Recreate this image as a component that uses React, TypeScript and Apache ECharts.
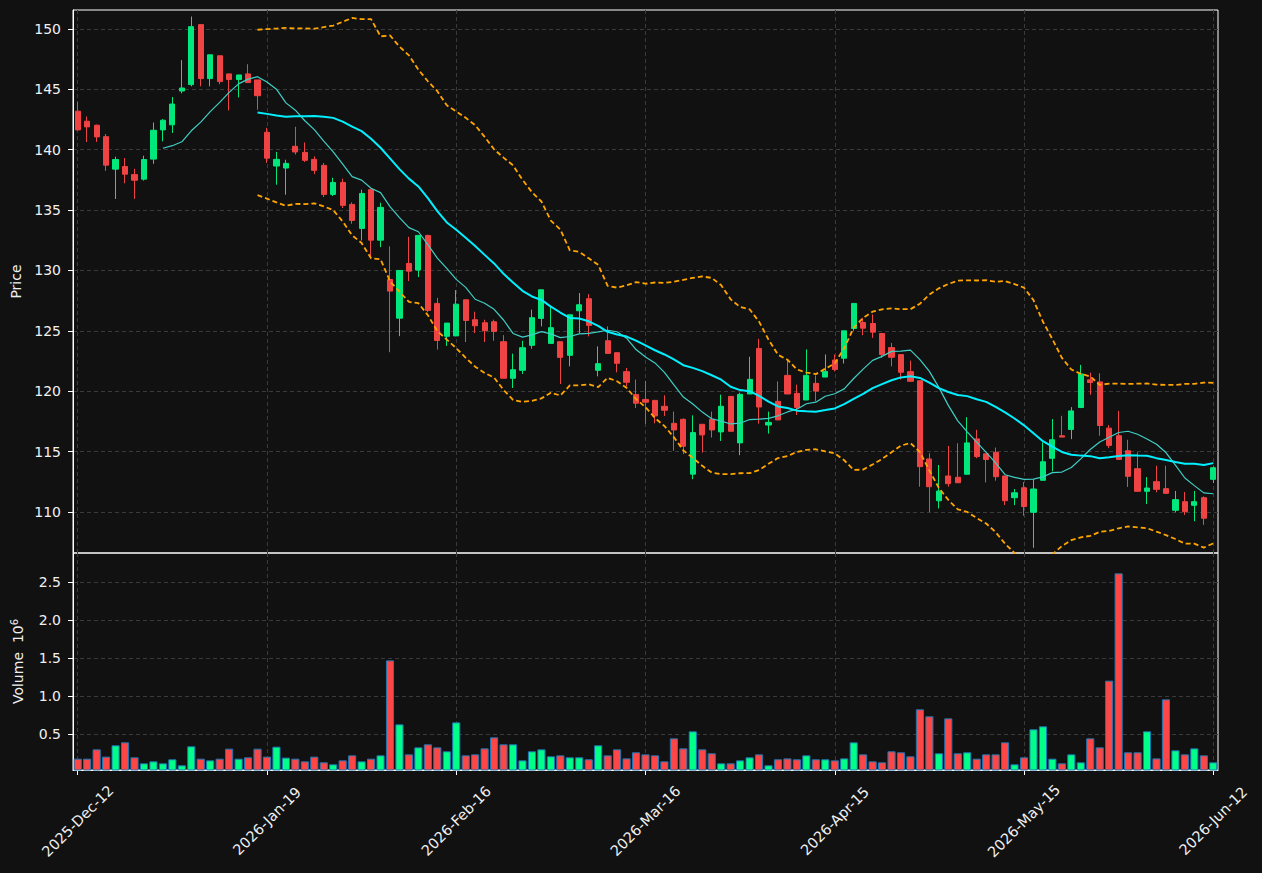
import React, { useEffect, useRef } from "react";
import * as echarts from "echarts";

const tickLabels = ["2025-Dec-12", "2026-Jan-19", "2026-Feb-16", "2026-Mar-16", "2026-Apr-15", "2026-May-15", "2026-Jun-12"];

const opens = [
  143.19, 142.36, 142.03, 141.08, 138.39, 138.61, 137.94, 137.56, 139.22, 141.64,
  142.06, 144.86, 145.39, 150.36, 145.89, 147.78, 146.28, 145.81, 146.28, 145.78,
  141.44, 138.65, 138.48, 140.28, 139.78, 139.2, 138.7, 136.3, 137.29, 135.47,
  133.48, 136.69, 132.51, 129.25, 126.05, 130.58, 130.03, 132.9, 127.27, 124.55,
  124.58, 127.57, 125.92, 125.67, 125.75, 124.1, 121.07, 121.73, 123.8, 126.03,
  123.96, 124.1, 122.97, 126.66, 127.66, 121.73, 124.18, 123.19, 121.62, 119.72,
  119.32, 119.24, 118.75, 117.34, 117.67, 113.13, 117.26, 117.67, 116.63, 119.57,
  115.72, 119.77, 123.54, 117.2, 119.16, 121.31, 119.82, 119.27, 120.65, 121.17,
  122.58, 122.73, 125.19, 125.69, 125.61, 124.78, 123.61, 123.03, 121.62, 120.87,
  114.39, 110.93, 112.98, 112.87, 113.12, 116.05, 114.81, 114.94, 112.98, 111.18,
  112.0, 109.97, 112.62, 114.44, 116.31, 116.83, 118.65, 120.94, 120.77, 116.94,
  116.31, 115.07, 113.58, 111.71, 112.51, 111.93, 110.14, 110.85, 110.55, 111.18,
  112.7,
];
const highs = [
  143.97, 142.75, 142.08, 141.3, 139.42, 139.31, 138.42, 139.5, 142.25, 142.53,
  144.36, 147.42, 151.03, 150.36, 147.86, 147.78, 146.28, 146.19, 147.08, 145.78,
  141.81, 139.81, 139.17, 141.9, 140.6, 139.45, 138.9, 137.68, 137.6, 135.64,
  136.69, 136.77, 135.61, 131.99, 130.0, 132.79, 132.9, 132.96, 127.73, 125.64,
  128.37, 127.57, 126.58, 125.92, 125.92, 124.65, 123.11, 124.18, 126.75, 128.4,
  126.97, 124.1, 126.33, 128.13, 128.04, 123.71, 125.37, 123.19, 121.92, 120.96,
  120.85, 119.24, 119.66, 118.31, 117.75, 118.0, 117.26, 118.31, 119.71, 119.57,
  119.88, 122.85, 124.34, 118.31, 120.81, 122.63, 120.54, 123.46, 121.31, 123.04,
  123.04, 125.0, 127.27, 126.08, 126.36, 124.78, 124.0, 123.03, 122.53, 120.87,
  114.86, 113.89, 115.47, 115.69, 117.85, 116.8, 114.81, 115.33, 112.98, 111.9,
  112.48, 112.73, 115.76, 117.69, 117.96, 118.68, 122.18, 121.54, 121.49, 117.19,
  118.37, 115.98, 114.93, 112.89, 113.83, 113.83, 111.74, 111.65, 111.74, 111.29,
  113.77,
];
const lows = [
  141.6, 140.64, 140.64, 138.25, 135.92, 137.22, 135.92, 137.44, 138.83, 140.69,
  141.39, 144.67, 145.25, 145.25, 145.25, 145.42, 143.25, 144.33, 145.56, 143.31,
  138.9, 137.1, 136.27, 139.6, 138.98, 137.98, 136.08, 136.16, 135.17, 133.87,
  132.49, 131.1, 131.93, 123.23, 124.56, 129.12, 129.45, 126.55, 123.45, 123.75,
  124.55, 124.07, 124.82, 124.07, 124.18, 121.07, 120.27, 121.43, 123.52, 125.37,
  123.96, 120.6, 122.06, 124.82, 124.54, 121.23, 123.13, 121.56, 120.41, 118.61,
  117.3, 117.34, 117.95, 115.06, 114.78, 112.71, 114.92, 116.16, 115.88, 116.68,
  114.7, 119.77, 117.31, 116.49, 117.62, 119.77, 118.03, 119.27, 119.19, 121.17,
  121.64, 122.29, 125.0, 124.64, 124.42, 122.76, 122.06, 120.96, 120.82, 112.09,
  109.99, 110.29, 112.09, 112.42, 113.12, 114.45, 112.45, 112.59, 110.57, 110.57,
  109.68, 107.03, 112.62, 113.36, 116.2, 116.03, 118.6, 119.7, 116.31, 115.29,
  114.35, 112.07, 111.71, 110.66, 111.63, 111.54, 109.97, 109.75, 109.23, 108.93,
  112.4,
];
const closes = [
  141.64, 141.89, 141.06, 138.72, 139.19, 137.97, 137.47, 139.19, 141.61, 142.44,
  143.78, 145.11, 150.19, 145.89, 147.86, 145.64, 145.81, 146.19, 145.56, 144.47,
  139.3, 139.2, 138.87, 139.81, 139.12, 138.29, 136.3, 137.29, 135.39, 134.14,
  136.38, 132.51, 135.22, 128.29, 130.0, 129.94, 132.9, 126.69, 124.2, 125.64,
  127.21, 125.86, 125.42, 125.01, 124.95, 121.07, 121.78, 123.6, 126.09, 128.4,
  125.26, 122.8, 126.33, 127.16, 125.45, 122.28, 123.13, 122.31, 120.74, 119.0,
  119.09, 117.95, 118.42, 116.79, 115.44, 116.57, 116.38, 116.79, 118.75, 116.68,
  119.74, 120.98, 118.69, 117.42, 117.62, 119.77, 118.66, 121.31, 120.01, 121.64,
  121.8, 125.0, 127.27, 125.22, 124.89, 123.03, 122.81, 121.57, 120.82, 113.75,
  112.09, 111.73, 112.34, 112.42, 115.72, 114.58, 114.34, 112.92, 110.93, 111.59,
  110.45, 111.9, 114.16, 115.98, 116.2, 118.37, 121.43, 120.72, 117.16, 115.51,
  114.35, 112.95, 111.71, 111.98, 111.87, 111.54, 111.02, 110.03, 110.85, 109.48,
  113.66,
];
const volumes = [
  0.179, 0.179, 0.302, 0.206, 0.355, 0.394, 0.197, 0.118, 0.144, 0.118,
  0.171, 0.092, 0.342, 0.179, 0.157, 0.179, 0.311, 0.179, 0.197, 0.311,
  0.206, 0.337, 0.193, 0.179, 0.144, 0.206, 0.131, 0.105, 0.157, 0.223,
  0.144, 0.179, 0.223, 1.473, 0.631, 0.236, 0.328, 0.368, 0.328, 0.276,
  0.657, 0.223, 0.236, 0.315, 0.46, 0.368, 0.368, 0.157, 0.276, 0.302,
  0.21, 0.223, 0.197, 0.197, 0.171, 0.355, 0.223, 0.302, 0.183, 0.263,
  0.236, 0.223, 0.144, 0.447, 0.315, 0.539, 0.302, 0.25, 0.118, 0.118,
  0.157, 0.197, 0.236, 0.092, 0.171, 0.183, 0.171, 0.223, 0.171, 0.171,
  0.157, 0.183, 0.394, 0.236, 0.144, 0.131, 0.276, 0.263, 0.21, 0.829,
  0.737, 0.25, 0.71, 0.25, 0.263, 0.179, 0.236, 0.236, 0.394, 0.105,
  0.197, 0.566, 0.605, 0.179, 0.118, 0.236, 0.131, 0.447, 0.328, 1.206,
  2.618, 0.263, 0.263, 0.539, 0.183, 0.96, 0.289, 0.236, 0.315, 0.223,
  0.131,
];

const priceTicks = [110, 115, 120, 125, 130, 135, 140, 145, 150];
const volumeTicks = [0.5, 1.0, 1.5, 2.0, 2.5];

const TICK_EVERY = 20;
const categories = closes.map((_, i) =>
  i % TICK_EVERY === 0 ? tickLabels[i / TICK_EVERY] : "d" + i
);

function sma(arr: number[], n: number) {
  return arr.map((_, i) => {
    if (i < n - 1) return "-";
    let s = 0;
    for (let k = i - n + 1; k <= i; k++) s += arr[k];
    return s / n;
  });
}

function band(arr: number[], n: number, k: number, sign: number) {
  return arr.map((_, i) => {
    if (i < n - 1) return "-";
    let s = 0;
    for (let j = i - n + 1; j <= i; j++) s += arr[j];
    const m = s / n;
    let v = 0;
    for (let j = i - n + 1; j <= i; j++) v += (arr[j] - m) * (arr[j] - m);
    return m + sign * k * Math.sqrt(v / n);
  });
}

const UP = "#00e87c";
const DOWN = "#f04343";
const VUP = "#00ff88";
const VDOWN = "#ff4646";
const TXT = "#f0f0f0";
const GRIDC = "#3a3a3a";

export default function App() {
  const ref = useRef<HTMLDivElement>(null);
  useEffect(() => {
    if (!ref.current) return;
    const chart = echarts.init(ref.current, null, { renderer: "svg" });
    const tickInterval = (i: number) => i % TICK_EVERY === 0;
    const font = "DejaVu Sans";
    const option: any = {
      animation: false,
      backgroundColor: "#111111",
      textStyle: { fontFamily: font },
      grid: [
        { left: 73, top: 10, width: 1145, height: 543, show: true, borderColor: "#ffffff", borderWidth: 1, backgroundColor: "transparent", containLabel: false, outerBoundsMode: "none" },
        { left: 73, top: 553, width: 1145, height: 217, show: true, borderColor: "#ffffff", borderWidth: 1, backgroundColor: "transparent", containLabel: false, outerBoundsMode: "none" },
      ],
      xAxis: [
        {
          type: "category",
          gridIndex: 0,
          data: categories,
          boundaryGap: true,
          axisLine: { show: false },
          axisTick: { show: false },
          axisLabel: { show: false },
          splitLine: { show: true, interval: tickInterval, alignWithLabel: true, lineStyle: { color: GRIDC, type: [4, 3], width: 1 } },
        },
        {
          type: "category",
          gridIndex: 1,
          data: categories,
          boundaryGap: true,
          axisLine: { show: true, lineStyle: { color: "#ffffff", width: 1 } },
          axisTick: { show: true, interval: tickInterval, alignWithLabel: true, length: 5, lineStyle: { color: "#ffffff" } },
          axisLabel: {
            show: true,
            interval: tickInterval,
            rotate: 45,
            align: "center",
            verticalAlign: "middle",
            margin: 51,
            color: TXT,
            fontSize: 14.5,
            fontFamily: font,
          },
          splitLine: { show: true, interval: tickInterval, alignWithLabel: true, lineStyle: { color: GRIDC, type: [4, 3], width: 1 } },
        },
      ],
      yAxis: [
        {
          type: "value",
          gridIndex: 0,
          min: 106.6,
          max: 151.57,
          scale: true,
          name: "Price",
          nameLocation: "middle",
          nameGap: 48,
          nameTextStyle: { color: TXT, fontSize: 14, fontFamily: font },
          axisLine: { show: true, lineStyle: { color: "#ffffff" } },
          axisTick: { show: true, length: 5, customValues: priceTicks, lineStyle: { color: "#ffffff" } },
          axisLabel: { show: true, customValues: priceTicks, color: TXT, fontSize: 14, margin: 12, fontFamily: font, formatter: (v: number) => String(Math.round(v)) },
          splitLine: { show: true, lineStyle: { color: GRIDC, type: [4, 3], width: 1 } },
        },
        {
          type: "value",
          gridIndex: 1,
          min: 0.03,
          max: 2.886,
          name: "Volume  10{sup|6}",
          nameLocation: "middle",
          nameGap: 46,
          nameTextStyle: { color: TXT, fontSize: 14, fontFamily: font, rich: { sup: { fontSize: 10, color: TXT, fontFamily: font, verticalAlign: "bottom", padding: [0, 0, 8, 0] } } },
          axisLine: { show: true, lineStyle: { color: "#ffffff" } },
          axisTick: { show: true, length: 5, customValues: volumeTicks, lineStyle: { color: "#ffffff" } },
          axisLabel: { show: true, customValues: volumeTicks, color: TXT, fontSize: 14, margin: 12, fontFamily: font, formatter: (v: number) => v.toFixed(1) },
          splitLine: { show: true, lineStyle: { color: GRIDC, type: [4, 3], width: 1 } },
        },
      ],
      series: [
        {
          name: "OHLC",
          type: "candlestick",
          xAxisIndex: 0,
          yAxisIndex: 0,
          barWidth: "60%",
          data: opens.map((o, i) => [o, closes[i], lows[i], highs[i]]),
          itemStyle: { color: UP, color0: DOWN, borderColor: UP, borderColor0: DOWN, borderWidth: 1 },
          z: 3,
        },
        {
          name: "SMA10",
          type: "line",
          xAxisIndex: 0,
          yAxisIndex: 0,
          data: sma(closes, 10),
          symbol: "none",
          lineStyle: { color: "#3fcfc6", width: 1.2 },
          z: 4,
        },
        {
          name: "SMA20",
          type: "line",
          xAxisIndex: 0,
          yAxisIndex: 0,
          data: sma(closes, 20),
          symbol: "none",
          lineStyle: { color: "#00f0ff", width: 2 },
          z: 5,
        },
        {
          name: "BB Upper",
          type: "line",
          xAxisIndex: 0,
          yAxisIndex: 0,
          data: band(closes, 20, 2, 1),
          symbol: "none",
          lineStyle: { color: "#ffa500", width: 1.8, type: [5, 3] },
          z: 5,
        },
        {
          name: "BB Lower",
          type: "line",
          xAxisIndex: 0,
          yAxisIndex: 0,
          data: band(closes, 20, 2, -1),
          symbol: "none",
          lineStyle: { color: "#ffa500", width: 1.8, type: [5, 3] },
          z: 5,
        },
        {
          name: "Volume",
          type: "bar",
          xAxisIndex: 1,
          yAxisIndex: 1,
          barWidth: "86%",
          data: volumes.map((v, i) => ({
            value: v,
            itemStyle: { color: closes[i] >= opens[i] ? VUP : VDOWN, borderColor: "#1f77b4", borderWidth: 1 },
          })),
        },
      ],
    };
    chart.setOption(option);
    return () => chart.dispose();
  }, []);
  return (
    <div
      ref={ref}
      style={{ position: "fixed", left: 0, top: 0, width: 1262, height: 873, background: "#111111" }}
    />
  );
}
